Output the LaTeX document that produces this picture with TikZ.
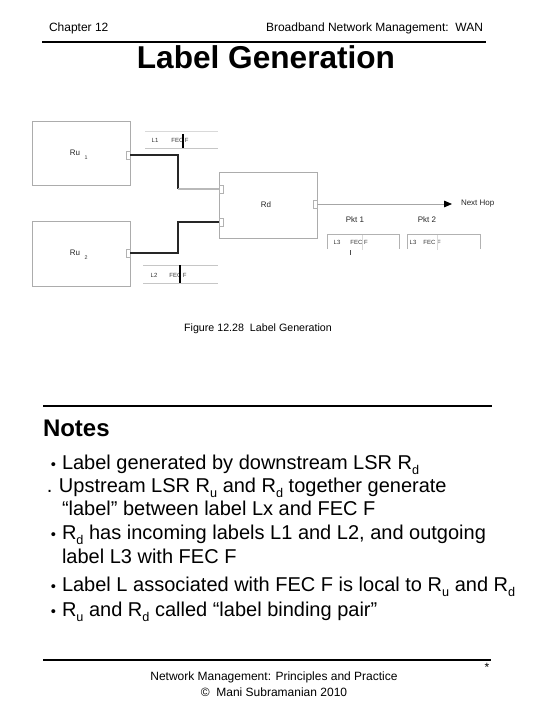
\documentclass[tikz,border=0pt]{standalone}
\usepackage{fontspec}
\setmainfont{Liberation Sans}
\usetikzlibrary{arrows.meta}
\newcommand\mysub[1]{\raisebox{-0.28em}{\fontsize{9.5}{10}\selectfont #1}}
\newcommand\mybul{\llap{{\fontsize{11}{11}\selectfont •}\hspace{4.5pt}}}
\begin{document}
\begin{tikzpicture}[x=0.75pt,y=-0.75pt,
  txt/.style={inner sep=0pt, outer sep=0pt},
  hdr/.style={txt, font=\fontsize{9}{10}\selectfont},
  ttl/.style={txt, font=\fontsize{23.7}{26}\selectfont\bfseries},
  notes/.style={txt, font=\fontsize{18}{20}\selectfont\bfseries},
  bul/.style={txt, anchor=base west, font=\fontsize{15}{17}\selectfont},
  rulel/.style={line width=1.5pt},
  rbox/.style={draw=gray!65, line width=0.75pt, minimum width=73.5pt, minimum height=48pt, inner sep=0pt},
  port/.style={draw=gray!60, line width=0.6pt, minimum width=3pt, minimum height=6pt, inner sep=0pt},
  wire/.style={draw=black!85, line width=0.9pt},
  lite/.style={draw=gray!45, line width=0.6pt},
  small/.style={txt, text=black!85, font=\fontsize{6}{7}\selectfont},
  mini/.style={txt, text=black!80, font=\fontsize{4.5}{5}\selectfont},
  subs/.style={txt, text=black!80, font=\fontsize{4}{4}\selectfont}
]
\useasboundingbox (0,0) rectangle (540,720);

% header
\node[hdr, anchor=base west] (ch) at (49,32) {Chapter 12};
\node[hdr, anchor=base east] (bb) at (483,32) {Broadband Network Management:\ \ WAN};
\draw[rulel] (42,42) -- (486,42);
\node[ttl, anchor=base] (title) at (266,69) {Label Generation};

% figure: boxes
\node[rbox] (ru1) at (81,154) {};
\node[small] (ru1t) at (75,153) {Ru};
\node[subs] (ru1s) at (86,158) {1};
\node[rbox] (ru2) at (81,254) {};
\node[small] (ru2t) at (75,253) {Ru};
\node[subs] (ru2s) at (86,258) {2};
\node[rbox, minimum height=48.75pt] (rd) at (268,205.5) {};
\node[small] (rdt) at (266,205) {Rd};

% ports
\node[port] (p1) at (128,155) {};
\node[port] (p2) at (128,253) {};
\node[port] (q1) at (221,189) {};
\node[port] (q2) at (221,222) {};
\node[port] (q3) at (315,204) {};

% wires
\coordinate (j1) at (178,189);
\coordinate (j2) at (178,222);
\draw[wire] (p1.east) -| (j1);
\draw[draw=gray!55, line width=0.8pt] (j1) -- (q1.west);
\draw[wire] (p2.east) -| (j2) -- (q2.west);

% outgoing
\coordinate (nh) at (452,204);
\draw[draw=gray!70, line width=0.6pt, -{Triangle[length=6pt,width=5pt,color=black]}] (q3.east) -- (nh);
\node[small, anchor=west] (nht) at (461,204) {Next Hop};
\node[small] (pk1) at (355,220) {Pkt 1};
\node[small] (pk2) at (427,220) {Pkt 2};

% packets
\draw[lite, draw=gray!60] (327,249) |- (399,234) -- (399,249);
\node[mini] (l3a) at (337,242) {L3};
\node[mini] (f3a) at (359,242) {FEC F};
\draw[lite, draw=gray!30] (362,235) -- (362,250);
\draw[draw=black!70, line width=0.6pt] (350,250) -- (350,255);
\draw[lite, draw=gray!60] (407,249) |- (480,234) -- (480,249);
\node[mini] (l3b) at (413,242) {L3};
\node[mini] (f3b) at (432,242) {FEC F};
\draw[lite, draw=gray!30] (437,235) -- (437,250);

% label strips
\draw[lite, draw=gray!30] (145,131) -- (218,131);
\draw[lite] (145,148) -- (218,148);
\node[mini] (l1) at (155,140) {L1};
\node[mini] (f1) at (180,140) {FEC F};
\draw[draw=black, line width=0.8pt] (183,134) -- (183,148);
\draw[lite] (143,265) -- (218,265);
\draw[lite] (143,283) -- (218,283);
\node[mini] (l2) at (154,275) {L2};
\node[mini] (f2) at (178,275) {FEC F};
\draw[draw=black, line width=0.8pt] (180,265) -- (180,283);

% caption
\node[txt, anchor=base, font=\fontsize{8}{9}\selectfont] (cap) at (258,331) {Figure 12.28\ \ Label Generation};

% notes
\draw[rulel] (43,406) -- (492,406);
\node[notes, anchor=base west] (nt) at (43,436) {Notes};
\node[bul] (b1) at (62,469) {\mybul Label generated by downstream LSR R\mysub{d}};
\node[bul] (b2) at (59,492) {\llap{.\hspace{5pt}}Upstream LSR R\mysub{u} and R\mysub{d} together generate};
\node[bul] (b3) at (62,515) {“label” between label Lx and FEC F};
\node[bul] (b4) at (62,539) {\mybul R\mysub{d} has incoming labels L1 and L2, and outgoing};
\node[bul] (b5) at (62,563) {label L3 with FEC F};
\node[bul] (b6) at (62,591) {\mybul Label L associated with FEC F is local to R\mysub{u} and R\mysub{d}};
\node[bul] (b7) at (62,616) {\mybul R\mysub{u} and R\mysub{d} called “label binding pair”};

% footer
\draw[rulel] (43,660) -- (491,660);
\node[hdr] (star) at (487,667) {*};
\node[hdr, anchor=base] (f1t) at (274,680) {Network Management: Principles and Practice};
\node[hdr, anchor=base] (f2t) at (274,696) {©\ \ Mani Subramanian 2010};
\end{tikzpicture}
\end{document}
